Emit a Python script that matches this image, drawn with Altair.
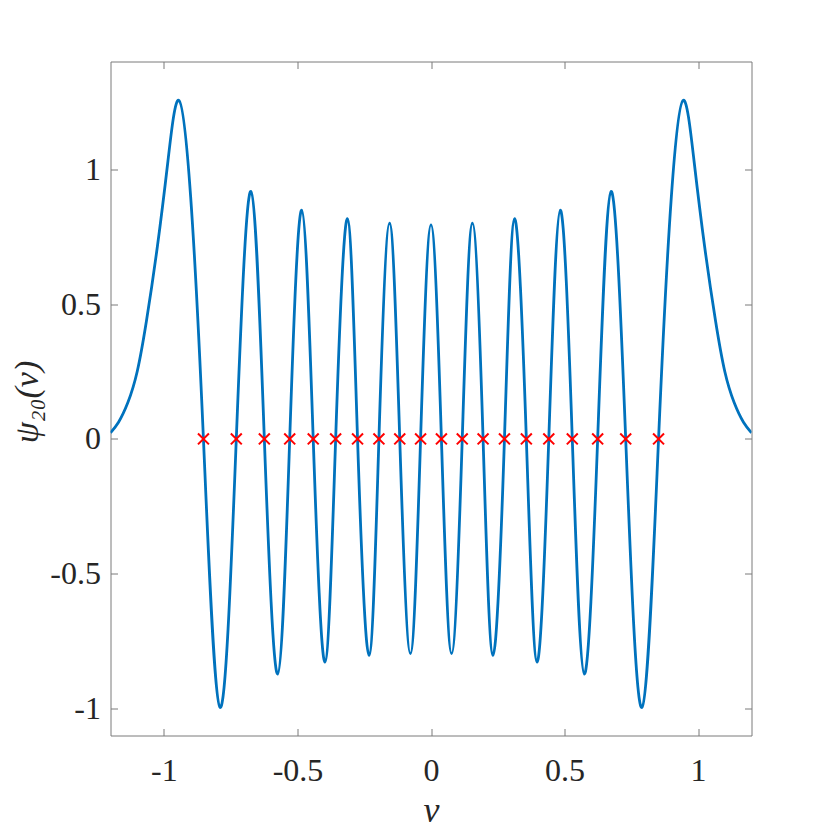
import altair as alt
import pandas as pd

# psi_20(v) (zeros and extrema, denser in the outer lobes)
v_curve = [
    -1.200, -1.170, -1.135, -1.100, -1.065, -1.025, -0.985, -0.944, -0.900, -0.852,
    -0.790, -0.729, -0.674, -0.624, -0.574, -0.529, -0.484, -0.441, -0.397, -0.357,
    -0.313, -0.275, -0.232, -0.195, -0.155, -0.117, -0.077, -0.039, 0.000,
    0.039, 0.077, 0.117, 0.155, 0.195, 0.232, 0.275, 0.313, 0.357, 0.397,
    0.441, 0.484, 0.529, 0.574, 0.624, 0.674, 0.729, 0.790, 0.852, 0.900,
    0.944, 0.985, 1.025, 1.065, 1.100, 1.135, 1.170, 1.200,
]
psi_curve = [
    0.023, 0.062, 0.135, 0.250, 0.440, 0.710, 1.030, 1.256, 0.900, 0.000,
    -0.996, 0.000, 0.918, 0.000, -0.872, 0.000, 0.849, 0.000, -0.828, 0.000,
    0.817, 0.000, -0.803, 0.000, 0.800, 0.000, -0.796, 0.000, 0.794,
    0.000, -0.796, 0.000, 0.800, 0.000, -0.803, 0.000, 0.817, 0.000, -0.828,
    0.000, 0.849, 0.000, -0.872, 0.000, 0.918, 0.000, -0.996, 0.000, 0.900,
    1.256, 1.030, 0.710, 0.440, 0.250, 0.135, 0.062, 0.023,
]

# zeros marked with red crosses
zero_v = [-0.852, -0.729, -0.624, -0.529, -0.441, -0.357, -0.275, -0.195, -0.117, -0.039,
          0.039, 0.117, 0.195, 0.275, 0.357, 0.441, 0.529, 0.624, 0.729, 0.852]
zero_psi = [0.0] * 20

x_ticks = [-1, -0.5, 0, 0.5, 1]
y_ticks = [-1, -0.5, 0, 0.5, 1]

curve_df = pd.DataFrame({"v": v_curve, "psi": psi_curve})
zeros_df = pd.DataFrame({"v": zero_v, "psi": zero_psi})

W, H = 641, 674
FONT = "Liberation Serif"
INK = "#262626"
FRAME = "#7a7a7a"

xs = alt.Scale(domain=[-1.2, 1.2], nice=False, zero=False)
ys = alt.Scale(domain=[-1.1, 1.4], nice=False, zero=False)


def tick_axis(orient, offset, values):
    return alt.Axis(orient=orient, offset=offset, values=values, labels=False,
                    domain=False, grid=False, ticks=True, tickSize=7,
                    tickColor=FRAME, tickWidth=1, title=None)


line = alt.Chart(curve_df).mark_line(
    color="#0072BD", strokeWidth=2.8, interpolate="natural", clip=True
).encode(
    x=alt.X("v:Q", scale=xs, axis=alt.Axis(
        orient="bottom", values=x_ticks, ticks=False, tickSize=0, domain=False, grid=False,
        labelExpr="toString(datum.value)", labelFont=FONT, labelFontSize=32,
        labelColor=INK, labelPadding=45, labelBaseline="alphabetic",
        title="v", titleFont=FONT, titleFontSize=36, titleFontStyle="italic",
        titleFontWeight="normal", titleColor=INK, titleX=W / 2, titleY=86,
        titleBaseline="alphabetic", titleAlign="center")),
    y=alt.Y("psi:Q", scale=ys, axis=alt.Axis(
        orient="left", values=y_ticks, ticks=False, tickSize=0, domain=False, grid=False,
        labelExpr="toString(datum.value)", labelFont=FONT, labelFontSize=32,
        labelColor=INK, labelPadding=10,
        title="ψ₂₀(v)", titleFont=FONT, titleFontSize=34, titleFontStyle="italic",
        titleFontWeight="normal", titleColor=INK, titleX=-73, titleY=H / 2 + 3,
        titleAngle=270, titleBaseline="alphabetic", titleAlign="center")),
)

crosses = alt.Chart(zeros_df).mark_point(
    shape="M-1,-1L1,1M-1,1L1,-1", filled=False, stroke="#FF0000",
    strokeWidth=2, size=120, opacity=1
).encode(
    x=alt.X("v:Q", scale=xs, axis=tick_axis("top", -H, x_ticks)),
    y=alt.Y("psi:Q", scale=ys, axis=tick_axis("right", -W, y_ticks)),
)

ticks_layer = alt.Chart(zeros_df).mark_point(opacity=0).encode(
    x=alt.X("v:Q", scale=xs, axis=tick_axis("bottom", -H, x_ticks)),
    y=alt.Y("psi:Q", scale=ys, axis=tick_axis("left", -W, y_ticks)),
)

chart = alt.layer(line, crosses, ticks_layer).resolve_axis(
    x="independent", y="independent"
).properties(
    width=W, height=H,
    padding={"left": 102.5, "top": 53.5, "right": 70, "bottom": 100},
    autosize=alt.AutoSizeParams(type="none"),
).configure_view(stroke=FRAME, strokeWidth=1)

chart.save("out.html", embed_options={"renderer": "svg", "actions": False})
